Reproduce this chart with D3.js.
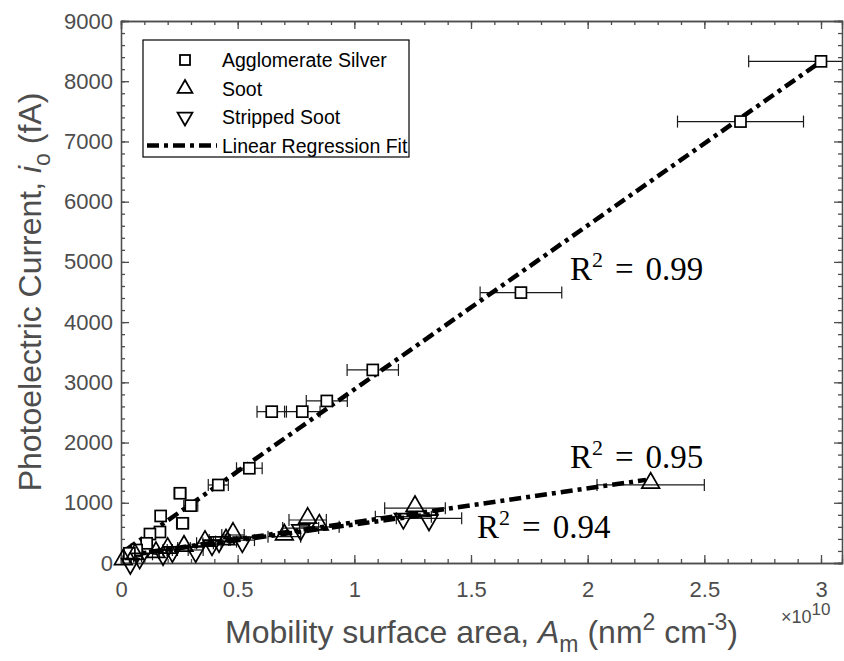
<!DOCTYPE html>
<html>
<script src="https://d3js.org/d3.v7.min.js"></script>
<body style="margin:0;background:#fff">
<svg id="chart" width="844" height="661"></svg>
<script>
// values (x in units of 1e10 nm^2 cm^-3, y in fA)
const silverX = [3.00, 2.655, 1.714, 1.079, 0.882, 0.777, 0.646, 0.55, 0.417, 0.299, 0.253, 0.264, 0.17, 0.167, 0.124, 0.11, 0.067, 0.036]
const silverY = [8330, 7330, 4490, 3206, 2691, 2513, 2513, 1573, 1296, 952, 1158, 659, 781, 515, 481, 327, 216, 161]
const silverErr = [0.31, 0.27, 0.175, 0.11, 0.088, 0.076, 0.063, 0.055, 0.043, 0.03, 0.025, 0.026, 0.017, 0.017, 0.012, 0.011, 0.007, 0.004]

const sootX = [0.01, 0.06, 0.15, 0.20, 0.27, 0.36, 0.45, 0.48, 0.70, 0.80, 0.85, 1.26, 2.27]
const sootY = [25, 110, 145, 215, 250, 330, 355, 465, 437, 714, 600, 910, 1296]
const sootErr = [0.001, 0.006, 0.015, 0.02, 0.027, 0.036, 0.045, 0.048, 0.07, 0.08, 0.085, 0.13, 0.23]

const strippedX = [0.04, 0.08, 0.18, 0.22, 0.32, 0.39, 0.42, 0.52, 0.77, 1.21, 1.32]
const strippedY = [20, 110, 166, 216, 216, 330, 382, 380, 580, 770, 742]
const strippedErr = [0.004, 0.008, 0.018, 0.022, 0.032, 0.039, 0.042, 0.052, 0.077, 0.12, 0.14]

// regression lines (end points)
const fitSilverX = [0.02, 2.99], fitSilverY = [215, 8300]
const fitSootX = [0.01, 2.25], fitSootY = [120, 1380]
const fitStrippedX = [0.02, 1.36], fitStrippedY = [125, 830]

const xTicks = [0, 0.5, 1, 1.5, 2, 2.5, 3]
const yTicks = [0, 1000, 2000, 3000, 4000, 5000, 6000, 7000, 8000, 9000]
const legendNames = ["Agglomerate Silver", "Soot", "Stripped Soot", "Linear Regression Fit"]
const r2Labels = ["0.99", "0.95", "0.94"]
const r2X = [1.924, 1.924, 1.526]
const r2Y = [4700, 1578, 415]

// layout
const plotLeft = 121, plotRight = 842, plotTop = 21, plotBottom = 563
const axisColor = "#4d4d4d"
const sans = "'Liberation Sans', Arial, sans-serif"

const svg = d3.select("#chart")

const x = d3.scaleLinear().domain([0, 3.09]).range([plotLeft, plotRight])
const y = d3.scaleLinear().domain([0, 9000]).range([plotBottom, plotTop])

svg.append("clipPath").attr("id", "plotClip")
  .append("rect").attr("x", plotLeft).attr("y", plotTop)
  .attr("width", plotRight - plotLeft).attr("height", plotBottom - plotTop)

// axes with inward ticks, box on all sides
const xMinor = d3.range(0, 3.09, 0.1)
const yMinor = d3.range(0, 9001, 200)

const axes = svg.append("g")
axes.append("g").attr("transform", "translate(0," + plotBottom + ")")
  .call(d3.axisBottom(x).tickValues(xMinor).tickSize(-4).tickFormat(""))
axes.append("g").attr("transform", "translate(0," + plotBottom + ")")
  .call(d3.axisBottom(x).tickValues(xTicks).tickSize(-8).tickPadding(18).tickFormat(d => d))
axes.append("g").attr("transform", "translate(0," + plotTop + ")")
  .call(d3.axisTop(x).tickValues(xMinor).tickSize(-4).tickFormat(""))
axes.append("g").attr("transform", "translate(0," + plotTop + ")")
  .call(d3.axisTop(x).tickValues(xTicks).tickSize(-8).tickFormat(""))
axes.append("g").attr("transform", "translate(" + plotLeft + ",0)")
  .call(d3.axisLeft(y).tickValues(yMinor).tickSize(-4).tickFormat(""))
axes.append("g").attr("transform", "translate(" + plotLeft + ",0)")
  .call(d3.axisLeft(y).tickValues(yTicks).tickSize(-8).tickPadding(8).tickFormat(d => d))
axes.append("g").attr("transform", "translate(" + plotRight + ",0)")
  .call(d3.axisRight(y).tickValues(yMinor).tickSize(-4).tickFormat(""))
axes.append("g").attr("transform", "translate(" + plotRight + ",0)")
  .call(d3.axisRight(y).tickValues(yTicks).tickSize(-8).tickFormat(""))

axes.selectAll("path.domain").attr("stroke", axisColor).attr("stroke-width", 1.3)
axes.selectAll(".tick line").attr("stroke", axisColor).attr("stroke-width", 1.3)
axes.selectAll(".tick text").attr("fill", axisColor).style("font-family", sans).style("font-size", "22px")

// error bars
const series = [
  {name: "silver", xs: silverX, ys: silverY, es: silverErr},
  {name: "soot", xs: sootX, ys: sootY, es: sootErr},
  {name: "stripped", xs: strippedX, ys: strippedY, es: strippedErr}
]
const bars = svg.append("g").attr("clip-path", "url(#plotClip)")
series.forEach(s => {
  s.xs.forEach((v, i) => {
    const yy = y(s.ys[i])
    const x0 = x(v - s.es[i]), x1 = x(v + s.es[i])
    const g = bars.append("g").attr("stroke", "#1a1a1a").attr("stroke-width", 1.2)
    g.append("line").attr("x1", x0).attr("x2", x1).attr("y1", yy).attr("y2", yy)
    g.append("line").attr("x1", x0).attr("x2", x0).attr("y1", yy - 6).attr("y2", yy + 6)
    g.append("line").attr("x1", x1).attr("x2", x1).attr("y1", yy - 6).attr("y2", yy + 6)
  })
})

// regression fits
const fitLine = d3.line().x(d => x(d[0])).y(d => y(d[1]))
const dash = "12,5,4,5"
;[[fitSilverX, fitSilverY], [fitSootX, fitSootY], [fitStrippedX, fitStrippedY]].forEach(f => {
  svg.append("path")
    .datum(f[0].map((v, i) => [v, f[1][i]]))
    .attr("d", fitLine)
    .attr("fill", "none").attr("stroke", "#000").attr("stroke-width", 4.5)
    .attr("stroke-dasharray", dash)
})

// markers
const triUp = d3.symbol().type(d3.symbolTriangle).size(135)
svg.append("g").selectAll("rect")
  .data(silverX.map((v, i) => [v, silverY[i]]))
  .join("rect")
    .attr("x", d => x(d[0]) - 5.5).attr("y", d => y(d[1]) - 5.5)
    .attr("width", 11).attr("height", 11)
    .attr("fill", "#fff").attr("stroke", "#000").attr("stroke-width", 1.7)
svg.append("g").selectAll("path")
  .data(sootX.map((v, i) => [v, sootY[i]]))
  .join("path")
    .attr("d", triUp)
    .attr("transform", d => "translate(" + x(d[0]) + "," + (y(d[1]) - 2) + ")")
    .attr("fill", "none").attr("stroke", "#000").attr("stroke-width", 1.7)
svg.append("g").selectAll("path")
  .data(strippedX.map((v, i) => [v, strippedY[i]]))
  .join("path")
    .attr("d", triUp)
    .attr("transform", d => "translate(" + x(d[0]) + "," + (y(d[1]) + 2) + ") rotate(180)")
    .attr("fill", "none").attr("stroke", "#000").attr("stroke-width", 1.7)

// R^2 annotations
r2Labels.forEach((t, i) => {
  const txt = svg.append("text")
    .attr("x", x(r2X[i])).attr("y", y(r2Y[i]))
    .style("font-family", "'Liberation Serif', 'DejaVu Serif', serif")
    .style("font-size", "33px").attr("fill", "#000")
  txt.append("tspan").text("R")
  txt.append("tspan").attr("dy", -13).style("font-size", "22px").text("2")
  txt.append("tspan").attr("dy", 13).attr("dx", 12).text("=")
  txt.append("tspan").attr("dx", 12).text(t)
})

// legend
const lg = svg.append("g")
lg.append("rect").attr("x", 143).attr("y", 40).attr("width", 266).attr("height", 117)
  .attr("fill", "#fff").attr("stroke", "#000").attr("stroke-width", 1.2)
legendNames.forEach((name, i) => {
  const cy = 60 + i * 28.5
  lg.append("text").attr("x", 222).attr("y", cy + 7).text(name)
    .style("font-family", sans).style("font-size", "19.5px").attr("fill", "#000")
  if (i === 0) {
    lg.append("rect").attr("x", 180).attr("y", cy - 5).attr("width", 10).attr("height", 10)
      .attr("fill", "none").attr("stroke", "#000").attr("stroke-width", 1.8)
  } else if (i === 3) {
    lg.append("line").attr("x1", 147).attr("x2", 217).attr("y1", cy).attr("y2", cy)
      .attr("stroke", "#000").attr("stroke-width", 4.5).attr("stroke-dasharray", dash)
  } else {
    lg.append("path").attr("d", d3.symbol().type(d3.symbolTriangle).size(95))
      .attr("transform", "translate(185," + cy + ")" + (i === 2 ? " rotate(180)" : ""))
      .attr("fill", "none").attr("stroke", "#000").attr("stroke-width", 1.8)
  }
})

// axis titles
const xt = svg.append("text").attr("x", (plotLeft + plotRight) / 2).attr("y", 643)
  .attr("text-anchor", "middle").attr("fill", axisColor)
  .style("font-family", sans).style("font-size", "32px")
xt.append("tspan").text("Mobility surface area,  ")
xt.append("tspan").style("font-style", "italic").text("A")
xt.append("tspan").attr("dy", 9).style("font-size", "23px").text("m")
xt.append("tspan").attr("dy", -9).text(" (nm")
xt.append("tspan").attr("dy", -13).style("font-size", "23px").text("2")
xt.append("tspan").attr("dy", 13).text(" cm")
xt.append("tspan").attr("dy", -13).style("font-size", "23px").text("-3")
xt.append("tspan").attr("dy", 13).text(")")

const yt = svg.append("text")
  .attr("transform", "translate(41," + (plotTop + plotBottom) / 2 + ") rotate(-90)")
  .attr("text-anchor", "middle").attr("fill", axisColor)
  .style("font-family", sans).style("font-size", "32px")
yt.append("tspan").text("Photoelectric Current,  ")
yt.append("tspan").style("font-style", "italic").text("i")
yt.append("tspan").attr("dy", 9).style("font-size", "23px").text("o")
yt.append("tspan").attr("dy", -9).text(" (fA)")

// exponent
const ex = svg.append("text").attr("x", 781).attr("y", 623).attr("fill", axisColor)
  .style("font-family", sans).style("font-size", "18px")
ex.append("tspan").text("\u00d710")
ex.append("tspan").attr("dy", -8).style("font-size", "17px").text("10")
</script>
</body>
</html>
